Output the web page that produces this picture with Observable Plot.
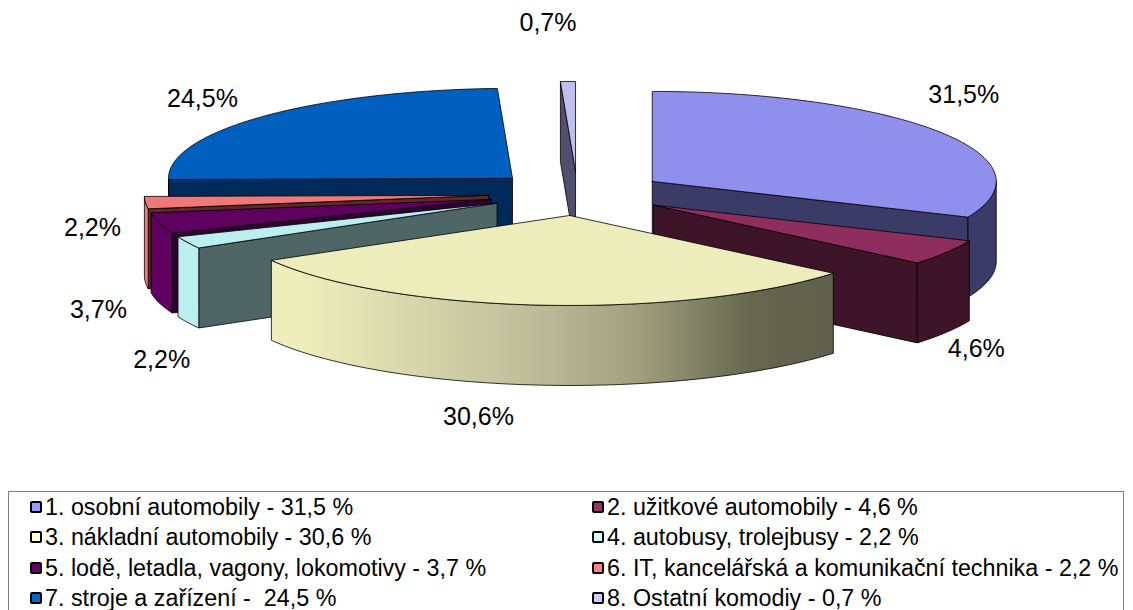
<!DOCTYPE html>
<html><head><meta charset="utf-8">
<script src="https://cdn.jsdelivr.net/npm/d3@7"></script>
<script src="https://cdn.jsdelivr.net/npm/@observablehq/plot@0.6"></script>
<style>
html,body{margin:0;padding:0;background:#fff;overflow:hidden}
#chart svg{display:block}
#legend{position:absolute;left:8px;top:491px;width:1116px;height:125px;border:1px solid #808080;box-sizing:border-box;
 font:23.3px "Liberation Sans",Arial,sans-serif;color:#000;white-space:pre}
#legend .it{position:absolute;height:30px;line-height:30px;display:flex;align-items:center}
#legend i{display:block;width:8px;height:8px;border:2px solid #000;border-radius:2px;margin-right:3px;flex:none}
</style></head><body>
<div id="chart"></div><div id="legend"></div>
<script>
// ---- data ----
const values = [31.5, 4.6, 30.6, 2.2, 3.7, 2.2, 24.5, 0.7];
const pieLabels = ["31,5%","4,6%","30,6%","2,2%","3,7%","2,2%","24,5%","0,7%"];
const legendLabels = [
  "1. osobní automobily - 31,5 %",
  "2. užitkové automobily - 4,6 %",
  "3. nákladní automobily - 30,6 %",
  "4. autobusy, trolejbusy - 2,2 %",
  "5. lodě, letadla, vagony, lokomotivy - 3,7 %",
  "6. IT, kancelářská a komunikační technika - 2,2 %",
  "7. stroje a zařízení -  24,5 %",
  "8. Ostatní komodiy - 0,7 %"
];
// ---- palette ----
const topColors  = ["#8f8fee","#8f2d5e","#ededbb","#bbeeee","#5f0060","#f07878","#0060c0","#bfbfee"];
const sideColors = ["#3b3b68","#3d1428","url(#rimGrad)","#bbeeee","#5f0060","#f07878","#002a5a","#50506e"];
const wallColors = ["#3b3b68","#3d1428","#60604c","#4f6666","#2f0030","#602828","#002a5a","#50506e"];
const legendColors = ["#9999ff","#993366","#ffffcc","#ccffff","#660066","#ff8080","#0066cc","#ccccff"];
// ---- layout ----
const W = 1133, H = 490;
const cx = 577, cy = 193, rx = 344, ry = 90;   // px per radius
const explodeX = 0.26, explodeY = 0.245, depth = 80 / ry;
const drawOrder = [7, 6, 5, 4, 3, 0, 1, 2];
const labelNudge = [[24,-37],[30,97],[-61,112],[-26,118],[-61,87],[-53,25],[-60,-18],[-20,-58]];

const rad = d => d * Math.PI / 180;
const total = d3.sum(values);
let acc = 0;
const slices = values.map((v, i) => {
  const a0 = acc; acc += v / total * 360; const a1 = acc;
  const mid = (a0 + a1) / 2;
  return {i, a0, a1, mid,
    ax: explodeX * Math.sin(rad(mid)),
    ay: -explodeY * Math.cos(rad(mid))};
});
const pt = (s, a, z = 0) => ({x: s.ax + Math.sin(rad(a)), y: s.ay - Math.cos(rad(a)) + z});
const apex = (s, z = 0) => ({x: s.ax, y: s.ay + z});
const arc = (s, from, to) => {
  const n = Math.max(1, Math.ceil((to - from) / 1.5));
  return d3.range(n + 1).map(k => from + (to - from) * k / n);
};
const wall = (s, a) => { const p = [apex(s), pt(s, a), pt(s, a, depth), apex(s, depth)]; return [...p, p[0]]; };

const faces = [];
for (const i of drawOrder) {
  const s = slices[i];
  const sa0 = Math.sin(rad(s.a0)), sa1 = Math.sin(rad(s.a1));
  if (sa0 < -1e-6) faces.push({pts: wall(s, s.a0), fill: wallColors[i]});
  if (sa1 > 1e-6)  faces.push({pts: wall(s, s.a1), fill: wallColors[i]});
  const r0 = Math.max(s.a0, 90), r1 = Math.min(s.a1, 270);
  if (r1 > r0) {
    const as = arc(s, r0, r1);
    const p = [...as.map(a => pt(s, a)), ...as.slice().reverse().map(a => pt(s, a, depth))];
    faces.push({pts: [...p, p[0]], fill: sideColors[i]});
  }
  const t = [apex(s), ...arc(s, s.a0, s.a1).map(a => pt(s, a)), apex(s)];
  faces.push({pts: t, fill: topColors[i]});
}

const labelRows = slices.map((s, i) => ({
  x: s.ax + Math.sin(rad(s.mid)) + labelNudge[i][0] / rx,
  y: s.ay - Math.cos(rad(s.mid)) + labelNudge[i][1] / ry,
  t: pieLabels[i]
}));

const defs = () => {
  const d = d3.create("svg:defs");
  const g = d.append("linearGradient").attr("id", "rimGrad")
    .attr("gradientUnits", "objectBoundingBox").attr("x1", 0).attr("x2", 1).attr("y1", 0).attr("y2", 0);
  [[0,"#eeeebb"],[.05,"#eeeebb"],[.18,"#dfdfb2"],[.45,"#bfbf9a"],[.65,"#a0a07f"],[.85,"#67674f"],[1,"#60604c"]]
    .forEach(([o, c]) => g.append("stop").attr("offset", o).attr("stop-color", c));
  return d.node();
};

const chart = Plot.plot({
  width: W, height: H, margin: 0,
  x: {domain: [-cx / rx, (W - cx) / rx], range: [0, W], axis: null},
  y: {domain: [-cy / ry, (H - cy) / ry], range: [0, H], axis: null},
  style: {background: "#fff"},
  marks: [
    defs,
    ...faces.map(f => Plot.line(f.pts, {x: "x", y: "y", fill: f.fill, stroke: "#000", strokeWidth: 0.8, strokeLinejoin: "round"})),
    Plot.text(labelRows, {x: "x", y: "y", text: "t", fontSize: 25, fontFamily: "Liberation Sans", fill: "#000"})
  ]
});
document.getElementById("chart").appendChild(chart);

const legend = document.getElementById("legend");
legendLabels.forEach((t, i) => {
  const el = document.createElement("div");
  el.className = "it";
  el.style.left = (i % 2 ? 583 : 21) + "px";
  el.style.top = (0 + Math.floor(i / 2) * 30.4) + "px";
  const k = document.createElement("i");
  k.style.background = legendColors[i];
  el.appendChild(k);
  el.appendChild(document.createTextNode(t));
  legend.appendChild(el);
});
</script></body></html>
